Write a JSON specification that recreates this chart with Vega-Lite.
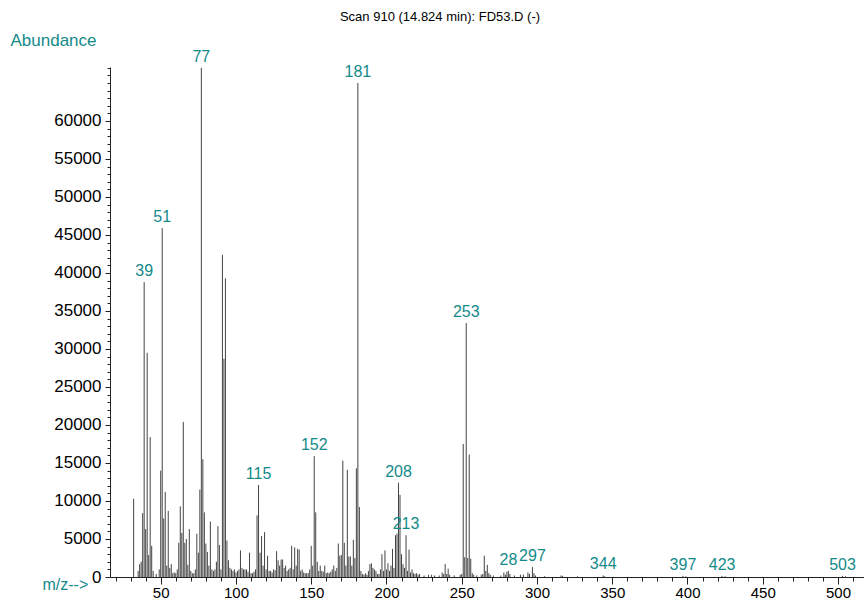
{
  "$schema": "https://vega.github.io/schema/vega-lite/v6.json",
  "width": 754,
  "height": 510,
  "autosize": {"type": "none"},
  "padding": {"left": 110, "top": 67, "right": 0, "bottom": 24},
  "background": "white",
  "config": {"view": {"stroke": null}, "font": "Liberation Sans"},
  "title": {"text": "Scan 910 (14.824 min): FD53.D (-)", "anchor": "middle", "dx": -47, "offset": 7, "fontSize": 13, "fontWeight": "normal", "font": "Liberation Sans", "color": "black"},
  "data": {"values": [
    {"mz": 32, "ab": 10300}, {"mz": 35, "ab": 800}, {"mz": 36, "ab": 1700}, {"mz": 37, "ab": 2000}, {"mz": 38, "ab": 8400},
    {"mz": 39, "ab": 38800, "label": "39"}, {"mz": 40, "ab": 6300}, {"mz": 41, "ab": 29500}, {"mz": 42, "ab": 2900}, {"mz": 43, "ab": 18400},
    {"mz": 44, "ab": 4100}, {"mz": 45, "ab": 800}, {"mz": 47, "ab": 400}, {"mz": 49, "ab": 1000}, {"mz": 50, "ab": 14000},
    {"mz": 51, "ab": 45900, "label": "51"}, {"mz": 52, "ab": 7700}, {"mz": 53, "ab": 11200}, {"mz": 54, "ab": 1500}, {"mz": 55, "ab": 8700},
    {"mz": 56, "ab": 1200}, {"mz": 57, "ab": 1700}, {"mz": 58, "ab": 500}, {"mz": 59, "ab": 600}, {"mz": 60, "ab": 500},
    {"mz": 61, "ab": 1000}, {"mz": 62, "ab": 4500}, {"mz": 63, "ab": 9300}, {"mz": 64, "ab": 5800}, {"mz": 65, "ab": 20400},
    {"mz": 66, "ab": 4500}, {"mz": 67, "ab": 5000}, {"mz": 68, "ab": 1600}, {"mz": 69, "ab": 6300}, {"mz": 70, "ab": 800},
    {"mz": 71, "ab": 500}, {"mz": 72, "ab": 500}, {"mz": 73, "ab": 1000}, {"mz": 74, "ab": 5700}, {"mz": 75, "ab": 3200},
    {"mz": 76, "ab": 11500}, {"mz": 77, "ab": 67000, "label": "77"}, {"mz": 78, "ab": 15500}, {"mz": 79, "ab": 8500}, {"mz": 80, "ab": 4400},
    {"mz": 81, "ab": 3300}, {"mz": 82, "ab": 1500}, {"mz": 83, "ab": 7300}, {"mz": 84, "ab": 1000}, {"mz": 85, "ab": 800},
    {"mz": 86, "ab": 1000}, {"mz": 87, "ab": 2000}, {"mz": 88, "ab": 6700}, {"mz": 89, "ab": 4200}, {"mz": 90, "ab": 1000},
    {"mz": 91, "ab": 42400}, {"mz": 92, "ab": 28700}, {"mz": 93, "ab": 39300}, {"mz": 94, "ab": 4800}, {"mz": 95, "ab": 2200},
    {"mz": 96, "ab": 1200}, {"mz": 97, "ab": 1000}, {"mz": 98, "ab": 800}, {"mz": 99, "ab": 1000}, {"mz": 100, "ab": 600},
    {"mz": 101, "ab": 800}, {"mz": 102, "ab": 1000}, {"mz": 103, "ab": 3500}, {"mz": 104, "ab": 1200}, {"mz": 105, "ab": 1000},
    {"mz": 106, "ab": 1000}, {"mz": 107, "ab": 1000}, {"mz": 108, "ab": 700}, {"mz": 109, "ab": 3200}, {"mz": 110, "ab": 500},
    {"mz": 111, "ab": 500}, {"mz": 112, "ab": 700}, {"mz": 113, "ab": 1000}, {"mz": 114, "ab": 8100}, {"mz": 115, "ab": 12100, "label": "115"},
    {"mz": 116, "ab": 3200}, {"mz": 117, "ab": 5400}, {"mz": 118, "ab": 1500}, {"mz": 119, "ab": 5900}, {"mz": 120, "ab": 1000},
    {"mz": 121, "ab": 2800}, {"mz": 122, "ab": 800}, {"mz": 123, "ab": 800}, {"mz": 124, "ab": 600}, {"mz": 125, "ab": 1000},
    {"mz": 126, "ab": 900}, {"mz": 127, "ab": 3400}, {"mz": 128, "ab": 2200}, {"mz": 129, "ab": 1500}, {"mz": 130, "ab": 2300},
    {"mz": 131, "ab": 2300}, {"mz": 132, "ab": 1200}, {"mz": 133, "ab": 1500}, {"mz": 134, "ab": 800}, {"mz": 135, "ab": 1000},
    {"mz": 136, "ab": 1200}, {"mz": 137, "ab": 4100}, {"mz": 138, "ab": 1000}, {"mz": 139, "ab": 3900}, {"mz": 140, "ab": 1500},
    {"mz": 141, "ab": 3700}, {"mz": 142, "ab": 3600}, {"mz": 143, "ab": 800}, {"mz": 144, "ab": 1000}, {"mz": 145, "ab": 600},
    {"mz": 146, "ab": 500}, {"mz": 147, "ab": 500}, {"mz": 148, "ab": 500}, {"mz": 149, "ab": 1000}, {"mz": 150, "ab": 4100},
    {"mz": 151, "ab": 1500}, {"mz": 152, "ab": 15900, "label": "152"}, {"mz": 153, "ab": 8500}, {"mz": 154, "ab": 2000}, {"mz": 155, "ab": 800},
    {"mz": 156, "ab": 1500}, {"mz": 157, "ab": 800}, {"mz": 158, "ab": 700}, {"mz": 159, "ab": 1500}, {"mz": 160, "ab": 500},
    {"mz": 161, "ab": 600}, {"mz": 162, "ab": 500}, {"mz": 163, "ab": 700}, {"mz": 164, "ab": 1000}, {"mz": 165, "ab": 1500},
    {"mz": 166, "ab": 800}, {"mz": 167, "ab": 1200}, {"mz": 168, "ab": 4400}, {"mz": 169, "ab": 2800}, {"mz": 170, "ab": 2900},
    {"mz": 171, "ab": 15300}, {"mz": 172, "ab": 4500}, {"mz": 173, "ab": 1500}, {"mz": 174, "ab": 14100}, {"mz": 175, "ab": 2700},
    {"mz": 176, "ab": 2700}, {"mz": 177, "ab": 1500}, {"mz": 178, "ab": 4900}, {"mz": 179, "ab": 2500}, {"mz": 180, "ab": 14300},
    {"mz": 181, "ab": 65000, "label": "181"}, {"mz": 182, "ab": 9200}, {"mz": 183, "ab": 800}, {"mz": 184, "ab": 400}, {"mz": 185, "ab": 300},
    {"mz": 186, "ab": 500}, {"mz": 187, "ab": 300}, {"mz": 188, "ab": 800}, {"mz": 189, "ab": 1700}, {"mz": 190, "ab": 1800},
    {"mz": 191, "ab": 1200}, {"mz": 192, "ab": 1000}, {"mz": 193, "ab": 800}, {"mz": 194, "ab": 400}, {"mz": 195, "ab": 400},
    {"mz": 196, "ab": 1000}, {"mz": 197, "ab": 3000}, {"mz": 198, "ab": 800}, {"mz": 199, "ab": 3500}, {"mz": 200, "ab": 1000},
    {"mz": 201, "ab": 1800}, {"mz": 202, "ab": 800}, {"mz": 203, "ab": 1500}, {"mz": 204, "ab": 3700}, {"mz": 205, "ab": 1200},
    {"mz": 206, "ab": 5500}, {"mz": 207, "ab": 5700}, {"mz": 208, "ab": 12400, "label": "208"}, {"mz": 209, "ab": 10800}, {"mz": 210, "ab": 3000},
    {"mz": 211, "ab": 1700}, {"mz": 212, "ab": 1200}, {"mz": 213, "ab": 5500, "label": "213"}, {"mz": 214, "ab": 800}, {"mz": 215, "ab": 3600},
    {"mz": 216, "ab": 600}, {"mz": 217, "ab": 1000}, {"mz": 218, "ab": 500}, {"mz": 219, "ab": 400}, {"mz": 220, "ab": 500},
    {"mz": 221, "ab": 300}, {"mz": 222, "ab": 400}, {"mz": 225, "ab": 200}, {"mz": 228, "ab": 300}, {"mz": 230, "ab": 300},
    {"mz": 232, "ab": 200}, {"mz": 235, "ab": 200}, {"mz": 237, "ab": 600}, {"mz": 238, "ab": 400}, {"mz": 239, "ab": 1700},
    {"mz": 240, "ab": 400}, {"mz": 241, "ab": 1100}, {"mz": 242, "ab": 300}, {"mz": 245, "ab": 200}, {"mz": 249, "ab": 300},
    {"mz": 250, "ab": 400}, {"mz": 251, "ab": 17500}, {"mz": 252, "ab": 2600}, {"mz": 253, "ab": 33400, "label": "253"}, {"mz": 254, "ab": 2500},
    {"mz": 255, "ab": 16100}, {"mz": 256, "ab": 2400}, {"mz": 257, "ab": 500}, {"mz": 258, "ab": 300}, {"mz": 260, "ab": 200},
    {"mz": 263, "ab": 300}, {"mz": 264, "ab": 400}, {"mz": 265, "ab": 2800}, {"mz": 266, "ab": 800}, {"mz": 267, "ab": 1600},
    {"mz": 268, "ab": 500}, {"mz": 269, "ab": 300}, {"mz": 271, "ab": 200}, {"mz": 276, "ab": 200}, {"mz": 278, "ab": 600},
    {"mz": 279, "ab": 300}, {"mz": 280, "ab": 700}, {"mz": 281, "ab": 800, "label": "28"}, {"mz": 282, "ab": 400}, {"mz": 285, "ab": 200},
    {"mz": 289, "ab": 300}, {"mz": 291, "ab": 300}, {"mz": 294, "ab": 600}, {"mz": 295, "ab": 400}, {"mz": 297, "ab": 1300, "label": "297"},
    {"mz": 298, "ab": 500}, {"mz": 299, "ab": 200}, {"mz": 305, "ab": 100}, {"mz": 316, "ab": 200}, {"mz": 317, "ab": 150},
    {"mz": 327, "ab": 100}, {"mz": 344, "ab": 200, "label": "344"}, {"mz": 345, "ab": 100}, {"mz": 397, "ab": 150, "label": "397"}, {"mz": 399, "ab": 100},
    {"mz": 423, "ab": 150, "label": "423"}, {"mz": 425, "ab": 100}, {"mz": 503, "ab": 150, "label": "503"}, {"mz": 505, "ab": 100}
  ]},
  "encoding": {
    "x": {"field": "mz", "type": "quantitative",
      "scale": {"domain": [16.3, 517.3], "nice": false, "zero": false},
      "axis": {
        "values": [20,30,40,50,60,70,80,90,100,110,120,130,140,150,160,170,180,190,200,210,220,230,240,250,260,270,280,290,300,310,320,330,340,350,360,370,380,390,400,410,420,430,440,450,460,470,480,490,500,510],
        "labelExpr": "datum.value % 50 === 0 ? datum.label : ''",
        "format": "d",
        "grid": false,
        "domainColor": "#222", "tickColor": "#222",
        "tickSize": {"condition": {"test": "datum.value % 50 === 0", "value": 7}, "value": 4},
        "labelPadding": 1, "labelFontSize": 15, "labelFont": "Liberation Sans", "labelColor": "black",
        "labelOverlap": false, "labelFlush": false,
        "title": "m/z-->", "titleColor": "#138a8a", "titleFontSize": 16, "titleFontWeight": "normal", "titleFont": "Liberation Sans",
        "titleX": -68, "titleY": 7, "titleAlign": "left", "titleBaseline": "middle", "titleAngle": 0
      }
    },
    "y": {"field": "ab", "type": "quantitative",
      "scale": {"domain": [0, 67100], "nice": false},
      "axis": {
        "values": [0,1000,2000,3000,4000,5000,6000,7000,8000,9000,10000,11000,12000,13000,14000,15000,16000,17000,18000,19000,20000,21000,22000,23000,24000,25000,26000,27000,28000,29000,30000,31000,32000,33000,34000,35000,36000,37000,38000,39000,40000,41000,42000,43000,44000,45000,46000,47000,48000,49000,50000,51000,52000,53000,54000,55000,56000,57000,58000,59000,60000,61000,62000,63000,64000,65000,66000,67000],
        "labelExpr": "datum.value % 5000 === 0 && datum.value <= 60000 ? datum.label : ''",
        "format": "d",
        "grid": false,
        "domainColor": "#222", "tickColor": "#222",
        "tickSize": {"condition": {"test": "datum.value % 5000 === 0 && datum.value <= 60000", "value": 5}, "value": 3},
        "labelPadding": 4, "labelFontSize": 17, "labelFont": "Liberation Sans", "labelColor": "black",
        "labelOverlap": false, "labelFlush": false,
        "title": "Abundance", "titleColor": "#138a8a", "titleFontSize": 17, "titleFontWeight": "normal", "titleFont": "Liberation Sans",
        "titleX": -100, "titleY": -27, "titleAlign": "left", "titleBaseline": "middle", "titleAngle": 0
      }
    }
  },
  "layer": [
    {"mark": {"type": "rule", "color": "#444", "strokeWidth": 1},
     "encoding": {"y2": {"datum": 0}}},
    {"transform": [{"filter": {"field": "label", "valid": true}}],
     "mark": {"type": "text", "align": "center", "baseline": "bottom", "dy": -3, "fontSize": 16, "font": "Liberation Sans", "color": "#138a8a"},
     "encoding": {"text": {"field": "label", "type": "nominal"}}}
  ]
}
